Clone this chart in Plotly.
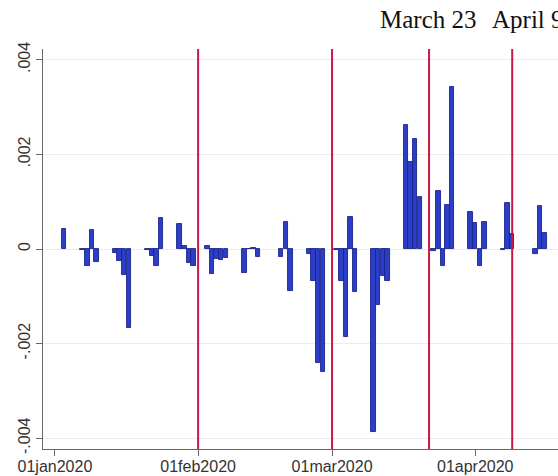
import plotly.graph_objects as go

# ---- data ----
dates = [
    "2020-01-03", "2020-01-07", "2020-01-08", "2020-01-09", "2020-01-10",
    "2020-01-14", "2020-01-15", "2020-01-16", "2020-01-17",
    "2020-01-21", "2020-01-22", "2020-01-23", "2020-01-24",
    "2020-01-28", "2020-01-29", "2020-01-30", "2020-01-31",
    "2020-02-03", "2020-02-04", "2020-02-05", "2020-02-06", "2020-02-07",
    "2020-02-11", "2020-02-12", "2020-02-13", "2020-02-14",
    "2020-02-19", "2020-02-20", "2020-02-21",
    "2020-02-25", "2020-02-26", "2020-02-27", "2020-02-28",
    "2020-03-02", "2020-03-03", "2020-03-04", "2020-03-05", "2020-03-06",
    "2020-03-10", "2020-03-11", "2020-03-12", "2020-03-13",
    "2020-03-17", "2020-03-18", "2020-03-19", "2020-03-20",
    "2020-03-23", "2020-03-24", "2020-03-25", "2020-03-26", "2020-03-27",
    "2020-03-31", "2020-04-01", "2020-04-02", "2020-04-03",
    "2020-04-07", "2020-04-08", "2020-04-09",
    "2020-04-14", "2020-04-15", "2020-04-16",
]
values = [
    0.00042, -0.00003, -0.00037, 0.00040, -0.00028,
    -0.00009, -0.00025, -0.00055, -0.00168,
    -0.00002, -0.00015, -0.00035, 0.00066,
    0.00052, 0.00007, -0.00030, -0.00036,
    0.00007, -0.00053, -0.00022, -0.00023, -0.00018,
    -0.00050, -0.00001, 0.00003, -0.00016,
    -0.00016, 0.00058, -0.00088,
    -0.00010, -0.00068, -0.00242, -0.00260,
    -0.00003, -0.00068, -0.00186, 0.00068, -0.00090,
    -0.00387, -0.00118, -0.00058, -0.00068,
    0.00263, 0.00184, 0.00232, 0.00109,
    -0.00004, 0.00123, -0.00037, 0.00094, 0.00343,
    0.00078, 0.00055, -0.00036, 0.00057,
    -0.00003, 0.00098, 0.00031,
    -0.00010, 0.00092, 0.00033,
]

event_lines = ["2020-02-01", "2020-03-01", "2020-03-22", "2020-04-09"]
event_labels = ["March 23", "April 9"]
event_label_at = ["2020-03-22", "2020-04-09"]

x_tick_vals = ["2020-01-01", "2020-02-01", "2020-03-01", "2020-04-01"]
x_tick_text = ["01jan2020", "01feb2020", "01mar2020", "01apr2020"]
y_tick_vals = [-0.004, -0.002, 0, 0.002, 0.004]
y_tick_text = ["-.004", "-.002", "0", ".002", ".004"]

DAY_MS = 86400000

fig = go.Figure()
fig.add_trace(go.Bar(
    x=dates, y=values,
    width=DAY_MS * 0.97,
    marker=dict(color="rgb(44,62,200)", line=dict(color="rgb(26,36,140)", width=0.9)),
    showlegend=False,
))

for d in event_lines:
    fig.add_shape(type="line", xref="x", yref="paper", x0=d, x1=d, y0=0, y1=1,
                  line=dict(color="rgb(200,25,70)", width=2), layer="above")

fig.add_annotation(x=event_label_at[0], xref="x", y=1.0725, yref="paper",
                   text=event_labels[0], showarrow=False, xanchor="center", yanchor="middle",
                   xshift=-1,
                   font=dict(family="Liberation Serif", size=25, color="#111"))
fig.add_annotation(x=event_label_at[1], xref="x", y=1.0725, yref="paper",
                   text=event_labels[1], showarrow=False, xanchor="left", yanchor="middle",
                   xshift=-22,
                   font=dict(family="Liberation Serif", size=25, color="#111"))

fig.update_layout(
    width=558, height=476,
    margin=dict(l=43, r=0, t=49, b=27, pad=0, autoexpand=False),
    paper_bgcolor="white", plot_bgcolor="white",
    bargap=0,
    font=dict(family="Liberation Sans", size=16, color="#333"),
)
fig.update_xaxes(
    type="date", automargin=False,
    range=["2019-12-29 10:00", "2020-04-18 22:00"],
    tickvals=x_tick_vals, ticktext=x_tick_text,
    ticks="outside", ticklen=6, tickcolor="#666", tickwidth=1,
    ticklabelstandoff=-3,
    showline=True, linecolor="#666", linewidth=1.2,
    showgrid=False, zeroline=False,
    tickfont=dict(family="Liberation Sans", size=16, color="#333"),
)
fig.update_yaxes(
    automargin=False,
    range=[-0.00423, 0.00423],
    tickvals=y_tick_vals, ticktext=y_tick_text,
    tickangle=-90,
    ticks="outside", ticklen=6, tickcolor="#666", tickwidth=1,
    showline=True, linecolor="#666", linewidth=1.2,
    showgrid=True, gridcolor="#ececec", gridwidth=1,
    zeroline=False,
    tickfont=dict(family="Liberation Sans", size=16, color="#333"),
)

fig.write_html("out.html",
               config={"displayModeBar": False},
               post_script="document.body.style.margin='0';document.body.style.overflow='hidden';")
